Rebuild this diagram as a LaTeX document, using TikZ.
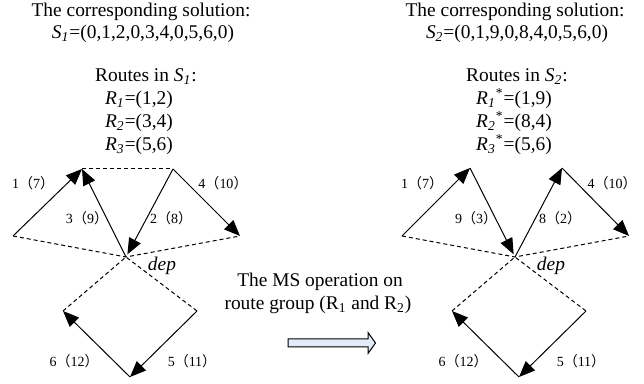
\documentclass[tikz,border=0pt]{standalone}
\usepackage{fontspec}
\setmainfont{Liberation Serif}
\newfontfamily\cjk{Noto Sans CJK SC}
\usetikzlibrary{arrows.meta}
\definecolor{msArrowFill}{HTML}{E3ECF8}
\newcommand{\fwp}[1]{{\cjk （}#1{\cjk ）}}

\begin{document}
\begin{tikzpicture}[x=0.5pt,y=-0.5pt,
  route/.style={line width=0.5pt,-{Triangle[length=8pt,width=6.5pt]}},
  link/.style={line width=0.5pt,dash pattern=on 2pt off 1.5pt},
  txt/.style={anchor=base,inner sep=0pt,font=\fontsize{9.7}{11.6}\selectfont},
  lbl/.style={inner sep=0pt,font=\fontsize{7}{8}\selectfont}]
  \useasboundingbox (0,0) rectangle (644,384);
  % solution S1
  \node[txt] (headL) at (141,17) {The corresponding solution:};
  \node[txt] (solL) at (143,39) {\textit{S\textsubscript{1}}=(0,1,2,0,3,4,0,5,6,0)};
  \node[txt] (routesL) at (146,82) {Routes in \textit{S\textsubscript{1}}:};
  \node[txt] (rOneL) at (139,105) {\textit{R\textsubscript{1}}=(1,2)};
  \node[txt] (rTwoL) at (139,128) {\textit{R\textsubscript{2}}=(3,4)};
  \node[txt] (rThreeL) at (139,151) {\textit{R\textsubscript{3}}=(5,6)};
  \coordinate (depL) at (126,257);
  \coordinate (leftL) at (13,236);
  \coordinate (topLL) at (82,169);
  \coordinate (topRL) at (173,169);
  \coordinate (rightL) at (240,236);
  \coordinate (botLL) at (63,311);
  \coordinate (botRL) at (197,311);
  \coordinate (bottomL) at (130,377);
  \draw[link] (topLL) -- (topRL);
  \draw[link] (leftL) -- (depL) -- (rightL);
  \draw[link] (botLL) -- (depL) -- (botRL);
  \draw[route] (leftL) -- (topLL);
  \draw[route] (depL) -- (topLL);
  \draw[route,shorten >=1.5pt] (topRL) -- (depL);
  \draw[route] (topRL) -- (rightL);
  \draw[route] (botRL) -- (bottomL);
  \draw[route] (bottomL) -- (botLL);
  \node[lbl] (aOneL) at (33,183) {1\fwp{7}};
  \node[lbl] (aThreeL) at (87,218) {3\fwp{9}};
  \node[lbl] (aTwoL) at (171,218) {2\fwp{8}};
  \node[lbl] (aFourL) at (223,183) {4\fwp{10}};
  \node[lbl] (aSixL) at (74,361) {6\fwp{12}};
  \node[lbl] (aFiveL) at (192,361) {5\fwp{11}};
  \node[txt,anchor=center] (depTxtL) at (162,266) {\textit{dep}};
  % MS operation
  \node[txt] (opTop) at (320,287) {The MS operation on};
  \node[txt] (opBot) at (318,310) {route group (R\textsubscript{1} and R\textsubscript{2})};
  \draw[line width=0.5pt,fill=msArrowFill] (288,339) -- (368,339) -- (368,332.5)
    -- (375.5,343) -- (368,353.5) -- (368,347) -- (288,347) -- cycle;
  % solution S2
  \node[txt] (headR) at (515,17) {The corresponding solution:};
  \node[txt] (solR) at (517,39) {\textit{S\textsubscript{2}}=(0,1,9,0,8,4,0,5,6,0)};
  \node[txt] (routesR) at (517,82) {Routes in \textit{S\textsubscript{2}}:};
  \node[txt] (rOneR) at (514,105) {\textit{R\textsubscript{1}}\textsuperscript{*}=(1,9)};
  \node[txt] (rTwoR) at (514,128) {\textit{R\textsubscript{2}}\textsuperscript{*}=(8,4)};
  \node[txt] (rThreeR) at (514,151) {\textit{R\textsubscript{3}}\textsuperscript{*}=(5,6)};
  \coordinate (depR) at (515,257);
  \coordinate (leftR) at (402,236);
  \coordinate (topLR) at (470,168);
  \coordinate (topRR) at (562,168);
  \coordinate (rightR) at (629,236);
  \coordinate (botLR) at (452,311);
  \coordinate (botRR) at (586,311);
  \coordinate (bottomR) at (519,377);
  \draw[link] (leftR) -- (depR) -- (rightR);
  \draw[link] (botLR) -- (depR) -- (botRR);
  \draw[route] (leftR) -- (topLR);
  \draw[route,shorten >=1.5pt] (topLR) -- (depR);
  \draw[route] (depR) -- (topRR);
  \draw[route] (topRR) -- (rightR);
  \draw[route] (botRR) -- (bottomR);
  \draw[route] (bottomR) -- (botLR);
  \node[lbl] (aOneR) at (422,183) {1\fwp{7}};
  \node[lbl] (aNineR) at (476,218) {9\fwp{3}};
  \node[lbl] (aEightR) at (560,218) {8\fwp{2}};
  \node[lbl] (aFourR) at (612,183) {4\fwp{10}};
  \node[lbl] (aSixR) at (463,361) {6\fwp{12}};
  \node[lbl] (aFiveR) at (581,361) {5\fwp{11}};
  \node[txt,anchor=center] (depTxtR) at (551,266) {\textit{dep}};
\end{tikzpicture}
\end{document}
